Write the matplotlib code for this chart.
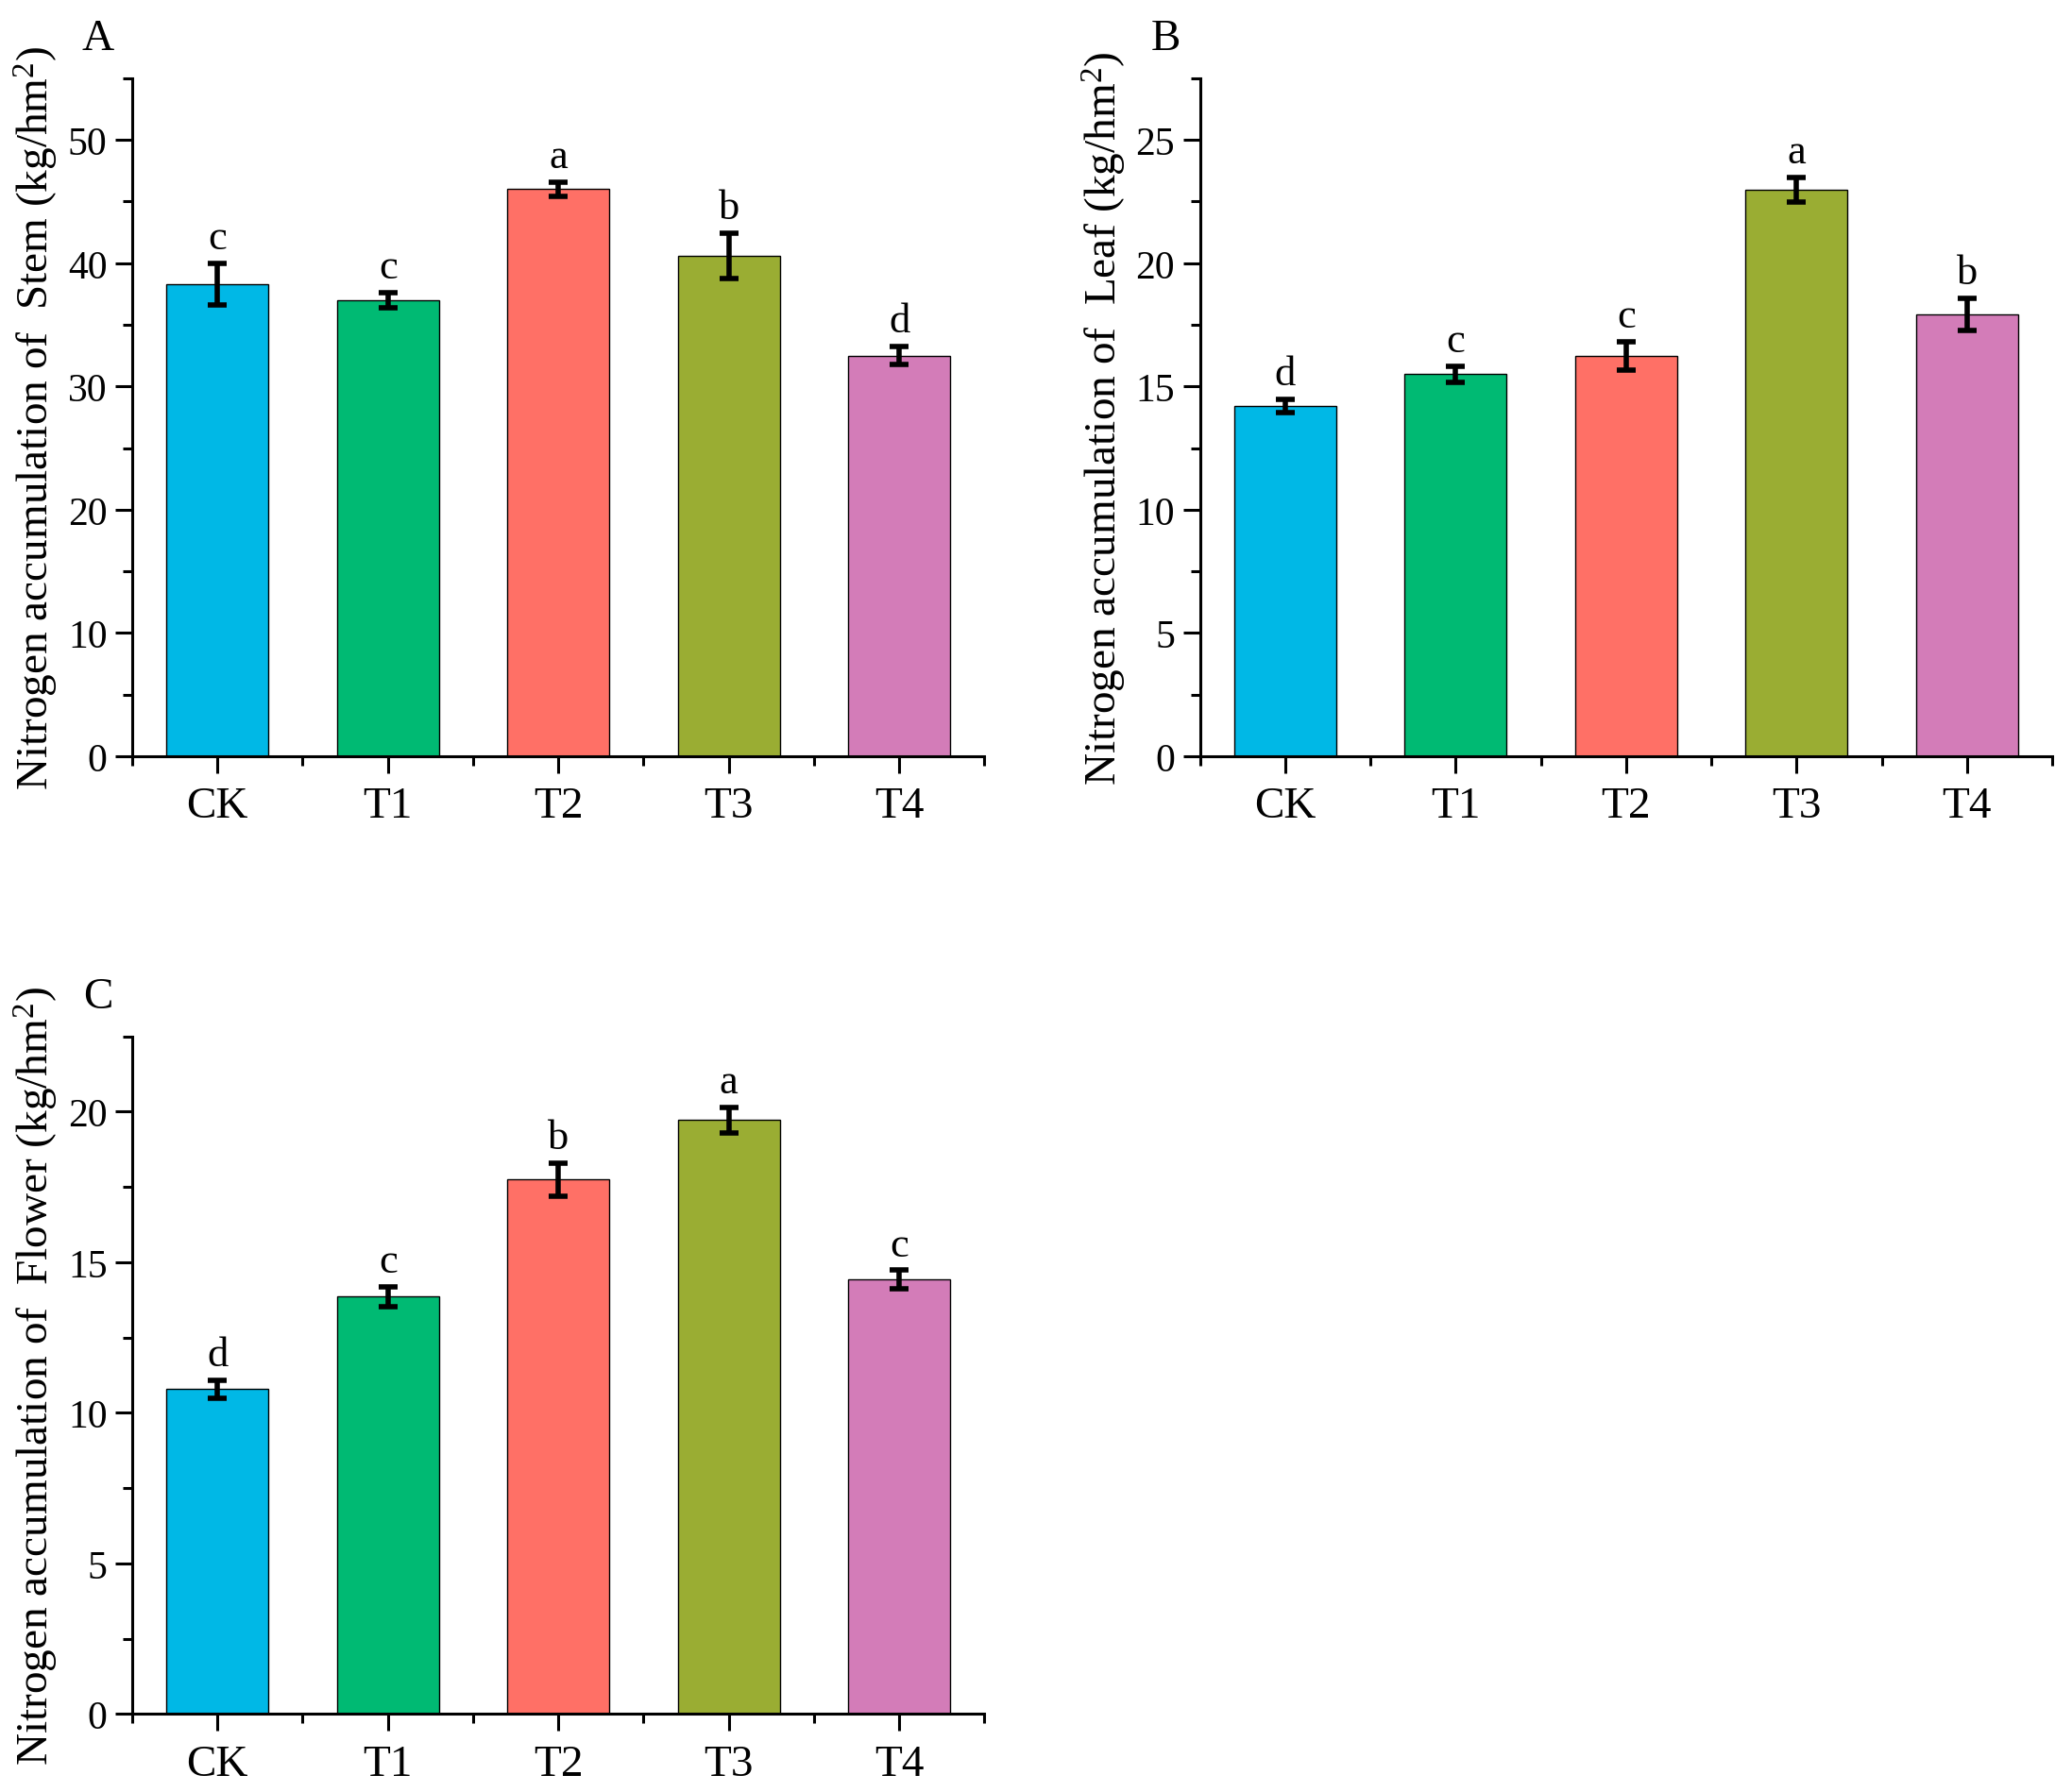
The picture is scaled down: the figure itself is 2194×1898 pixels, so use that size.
import matplotlib
matplotlib.use("Agg")
import matplotlib.pyplot as plt
import numpy as np
from matplotlib.ticker import MultipleLocator

plt.rcParams['font.family'] = ['Liberation Serif', 'DejaVu Serif']
plt.rcParams['mathtext.fontset'] = 'custom'
plt.rcParams['mathtext.rm'] = 'Liberation Serif'

# treatments and values
treatments = ["CK", "T1", "T2", "T3", "T4"]
bar_colors = ["#00B8E6", "#00BA73", "#FF7066", "#9AAD33", "#D37CB8"]

stem_mean = [38.3, 37.0, 46.0, 40.6, 32.5]
stem_err = [1.67, 0.6, 0.55, 1.85, 0.72]
stem_letters = ["c", "c", "a", "b", "d"]

leaf_mean = [14.2, 15.5, 16.25, 22.97, 17.92]
leaf_err = [0.27, 0.32, 0.57, 0.5, 0.65]
leaf_letters = ["d", "c", "c", "a", "b"]

flower_mean = [10.78, 13.86, 17.75, 19.72, 14.42]
flower_err = [0.3, 0.33, 0.55, 0.43, 0.31]
flower_letters = ["d", "c", "b", "a", "c"]

W, H = 1568, 1357  # layout measured in this pixel frame

fig = plt.figure(figsize=(21.94, 18.99), dpi=100)


def make_panel(rect_px, means, errs, letters, organ, ymax, major, tag, tag_y):
    left, right, top, bottom = rect_px
    ax = fig.add_axes([left / W, 1 - bottom / H, (right - left) / W, (bottom - top) / H])
    x = np.arange(len(treatments))
    ax.bar(x, means, width=0.6, color=bar_colors, edgecolor="black", linewidth=1.0, zorder=2)
    ax.errorbar(x, means, yerr=errs, fmt="none", ecolor="black", elinewidth=4,
                capsize=7, capthick=4, zorder=3)
    for xi, m, e, lab in zip(x, means, errs, letters):
        ax.annotate(lab, (xi, m + e), xytext=(0, 5), textcoords="offset points",
                    ha="center", va="bottom", fontsize=32)

    ax.set_xlim(-0.5, 4.5)
    ax.set_ylim(0, ymax)
    ax.set_xticks(x)
    ax.set_xticklabels(treatments, fontsize=34)
    ax.set_xticks(np.arange(-0.5, 4.6, 1.0), minor=True)
    ax.yaxis.set_major_locator(MultipleLocator(major))
    ax.yaxis.set_minor_locator(MultipleLocator(major / 2))
    ax.tick_params(axis="y", labelsize=30)
    ax.tick_params(which="major", direction="out", length=13, width=2.2, pad=6)
    ax.tick_params(which="minor", direction="out", length=7, width=2.2)
    ax.tick_params(axis="x", which="major", pad=10)

    for side in ["top", "right"]:
        ax.spines[side].set_visible(False)
    for side in ["left", "bottom"]:
        ax.spines[side].set_linewidth(2.2)

    ax.set_ylabel("Nitrogen accumulation of  " + organ + r" (kg/hm$\mathregular{^2}$)",
                  fontsize=34)
    ax.yaxis.label.set_va("center")
    ax.yaxis.set_label_coords(-0.112, 0.5)

    fig.text((left - 26) / W, 1 - tag_y / H, tag, fontsize=34, ha="center", va="center")
    return ax


make_panel((100, 745, 60, 573), stem_mean, stem_err, stem_letters, "Stem", 55, 10, "A", 30)
make_panel((908, 1553, 60, 573), leaf_mean, leaf_err, leaf_letters, "Leaf", 27.5, 5, "B", 30)
make_panel((100, 745, 785, 1298), flower_mean, flower_err, flower_letters, "Flower", 22.5, 5, "C", 755)

fig.savefig("out.png", dpi=100)
